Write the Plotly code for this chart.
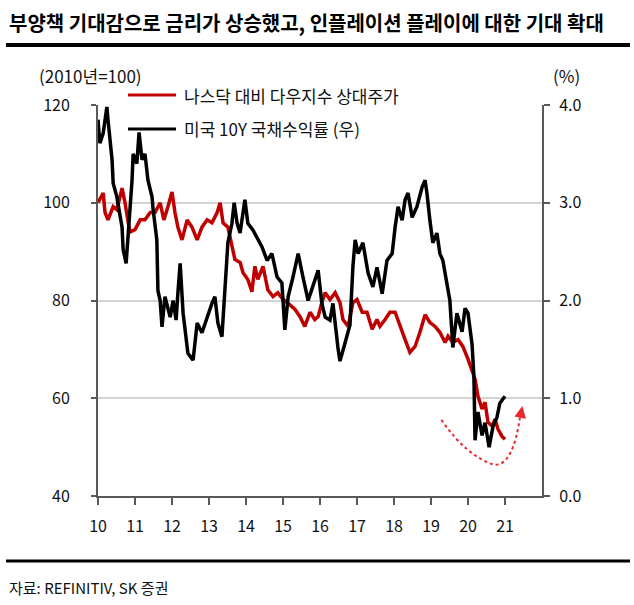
import plotly.graph_objects as go

# ---------------- data ----------------
# 나스닥 대비 다우지수 상대주가 (left axis, 2010=100); x in decimal years
rel_x = [2010.0, 2010.14, 2010.19, 2010.27, 2010.41, 2010.51, 2010.65, 2010.73, 2010.86, 2011.0,
         2011.14, 2011.27, 2011.41, 2011.54, 2011.68, 2011.78, 2011.89, 2012.0, 2012.08, 2012.16,
         2012.27, 2012.41, 2012.54, 2012.68, 2012.81, 2012.95, 2013.08, 2013.22, 2013.3, 2013.38,
         2013.51, 2013.62, 2013.7, 2013.84, 2013.92, 2014.05, 2014.16, 2014.24, 2014.32, 2014.46,
         2014.59, 2014.73, 2014.86, 2015.0, 2015.11, 2015.32, 2015.46, 2015.59, 2015.73, 2015.86,
         2015.95, 2016.05, 2016.14, 2016.27, 2016.41, 2016.54, 2016.62, 2016.76, 2016.89, 2017.0,
         2017.14, 2017.27, 2017.41, 2017.54, 2017.62, 2017.76, 2017.89, 2018.03, 2018.16, 2018.3,
         2018.43, 2018.57, 2018.7, 2018.84, 2018.97, 2019.11, 2019.24, 2019.38, 2019.46, 2019.59,
         2019.73, 2019.86, 2020.0, 2020.11, 2020.19, 2020.27, 2020.38, 2020.46, 2020.54, 2020.65,
         2020.73, 2020.81, 2020.92, 2021.0]
rel_y = [100.0, 102.0, 98.0, 96.5, 99.2, 98.6, 103.0, 100.0, 94.0, 94.5,
         96.5, 96.5, 98.0, 98.0, 100.0, 96.5, 99.2, 102.2, 98.0, 95.0,
         92.4, 96.5, 95.0, 92.4, 95.0, 96.5, 95.9, 98.0, 100.0, 95.9,
         95.0, 91.0, 88.4, 87.8, 85.7, 84.3, 81.8, 87.0, 84.3, 87.0,
         82.2, 80.8, 81.6, 80.2, 79.6, 78.2, 76.7, 74.7, 77.6, 76.1,
         76.7, 79.6, 81.6, 80.2, 81.6, 79.6, 76.1, 74.7, 79.6, 80.2,
         77.6, 77.6, 74.1, 76.1, 74.7, 76.1, 77.6, 77.6, 74.7, 72.0,
         69.4, 70.6, 73.5, 77.1, 75.5, 74.7, 73.5, 71.4, 72.7, 71.4,
         72.0, 70.6, 68.0, 65.3, 63.9, 60.4, 57.8, 59.2, 55.1, 54.3,
         55.7, 53.7, 52.2, 51.6]

# 미국 10Y 국채수익률 (right axis, %)
ust_x = [2010.0, 2010.05, 2010.14, 2010.24, 2010.27, 2010.38, 2010.41, 2010.51, 2010.65, 2010.68,
         2010.76, 2010.81, 2010.92, 2010.95, 2011.05, 2011.11, 2011.19, 2011.27, 2011.35, 2011.46,
         2011.49, 2011.59, 2011.62, 2011.68, 2011.73, 2011.81, 2011.95, 2012.03, 2012.11, 2012.16,
         2012.22, 2012.3, 2012.43, 2012.57, 2012.68, 2012.81, 2012.95, 2013.08, 2013.16, 2013.24,
         2013.35, 2013.43, 2013.51, 2013.62, 2013.68, 2013.76, 2013.84, 2013.97, 2014.05, 2014.19,
         2014.3, 2014.43, 2014.57, 2014.7, 2014.84, 2014.97, 2015.05, 2015.14, 2015.27, 2015.41,
         2015.54, 2015.68, 2015.81, 2015.95, 2016.05, 2016.14, 2016.27, 2016.35, 2016.49, 2016.54,
         2016.68, 2016.81, 2016.89, 2016.95, 2017.03, 2017.16, 2017.3, 2017.43, 2017.54, 2017.68,
         2017.81, 2017.95, 2018.03, 2018.11, 2018.22, 2018.3, 2018.38, 2018.49, 2018.62, 2018.76,
         2018.84, 2018.89, 2018.97, 2019.05, 2019.16, 2019.24, 2019.32, 2019.43, 2019.51, 2019.59,
         2019.7, 2019.84, 2019.92, 2020.0, 2020.11, 2020.16, 2020.19, 2020.27, 2020.38, 2020.46,
         2020.57, 2020.68, 2020.78, 2020.86, 2021.0]
ust_y = [3.85, 3.61, 3.71, 3.98, 3.85, 3.44, 3.2, 3.06, 2.75, 2.52,
         2.38, 2.62, 3.23, 3.5, 3.4, 3.72, 3.44, 3.5, 3.23, 3.06,
         2.93, 2.62, 2.1, 2.0, 1.73, 2.04, 1.83, 2.0, 1.8, 2.08,
         2.38, 1.87, 1.46, 1.39, 1.77, 1.67, 1.83, 1.97, 2.04, 1.77,
         1.63, 2.1, 2.59, 2.79, 3.0, 2.79, 2.69, 3.03, 2.79, 2.72,
         2.65, 2.55, 2.41, 2.48, 2.24, 2.18, 1.7, 2.04, 2.24, 2.48,
         2.24, 2.0, 2.15, 2.31, 1.97, 1.83, 1.8, 1.97, 1.5, 1.38,
         1.57, 1.75, 2.35, 2.62, 2.48, 2.59, 2.28, 2.14, 2.34, 2.07,
         2.41, 2.48, 2.75, 2.96, 2.82, 3.03, 3.1, 2.85, 2.96, 3.16,
         3.23, 3.1, 2.82, 2.59, 2.69, 2.48, 2.41, 2.14, 2.0, 1.52,
         1.87, 1.68, 1.92, 1.87, 1.55, 1.22, 0.57, 0.86, 0.62, 0.75,
         0.5, 0.72, 0.8, 0.95, 1.02]

x_tickvals = list(range(2010, 2022))
x_ticktext = ["10", "11", "12", "13", "14", "15", "16", "17", "18", "19", "20", "21"]

name_rel = "나스닥 대비 다우지수 상대주가"
name_ust = "미국 10Y 국채수익률 (우)"
title_text = "부양책 기대감으로 금리가 상승했고, 인플레이션 플레이에 대한 기대 확대"
source_text = "자료: REFINITIV, SK 증권"

# ---------------- layout geometry ----------------
W, H = 634, 605
L, R, T, B = 98, 542, 105, 496


def px(x):
    return (x - L) / (R - L)


def py(y):
    return (B - y) / (B - T)


FONT = "Noto Sans CJK KR"
RED = "#c00000"

fig = go.Figure()
fig.add_trace(go.Scatter(x=rel_x, y=rel_y, mode="lines", name=name_rel,
                         line=dict(color=RED, width=3.5), yaxis="y", showlegend=False))
fig.add_trace(go.Scatter(x=ust_x, y=ust_y, mode="lines", name=name_ust,
                         line=dict(color="#000000", width=3.5), yaxis="y2", showlegend=False))

axis_line = "#595959"
fig.update_layout(
    width=W, height=H,
    margin=dict(l=L, r=W - R, t=T, b=H - B),
    paper_bgcolor="white", plot_bgcolor="white",
    font=dict(family=FONT, size=15, color="#111111"),
    xaxis=dict(range=[2010, 2022], tickvals=x_tickvals, ticktext=x_ticktext,
               showgrid=False, zeroline=False, showline=True, linecolor=axis_line, linewidth=2,
               ticks="outside", ticklen=7, tickwidth=1.5, tickcolor=axis_line,
               tickfont=dict(size=16), ticklabelstandoff=8),
    yaxis=dict(range=[40, 120], dtick=20, showgrid=True, gridcolor="#d4d4d4", gridwidth=1.5,
               zeroline=False, showline=True, linecolor=axis_line, linewidth=2,
               ticks="outside", ticklen=5, tickwidth=1.5, tickcolor=axis_line,
               tickfont=dict(size=16), ticklabelstandoff=18),
    yaxis2=dict(range=[0, 4], dtick=1, tickformat=".1f", overlaying="y", side="right",
                showgrid=False, zeroline=False, showline=True, linecolor=axis_line, linewidth=2,
                ticks="outside", ticklen=6, tickwidth=1.5, tickcolor=axis_line,
                tickfont=dict(size=16), ticklabelstandoff=6),
)

shapes = []
annotations = []

# title and rules
annotations.append(dict(text=title_text, xref="paper", yref="paper", x=px(7), y=py(22),
                        xanchor="left", yanchor="middle", showarrow=False,
                        font=dict(family=FONT, size=20, color="#000000", weight="bold")))
shapes.append(dict(type="line", xref="paper", yref="paper", x0=px(6), x1=px(630),
                   y0=py(45), y1=py(45), line=dict(color="#000000", width=4)))
shapes.append(dict(type="line", xref="paper", yref="paper", x0=px(6), x1=px(630),
                   y0=py(561), y1=py(561), line=dict(color="#000000", width=3)))
annotations.append(dict(text=source_text, xref="paper", yref="paper", x=px(7), y=py(587),
                        xanchor="left", yanchor="middle", showarrow=False,
                        font=dict(family="Liberation Sans Narrow, " + FONT, size=15, color="#111111")))

# axis unit labels
annotations.append(dict(text="(2010년=100)", xref="paper", yref="paper", x=px(37), y=py(76),
                        xanchor="left", yanchor="middle", showarrow=False, font=dict(size=17)))
annotations.append(dict(text="(%)", xref="paper", yref="paper", x=px(551), y=py(76),
                        xanchor="left", yanchor="middle", showarrow=False, font=dict(size=17)))

# legend (manual)
for yy, col, txt in [(95, RED, name_rel), (129, "#000000", name_ust)]:
    shapes.append(dict(type="line", xref="paper", yref="paper", x0=px(128), x1=px(176),
                       y0=py(yy), y1=py(yy), line=dict(color=col, width=3)))
    annotations.append(dict(text=txt, xref="paper", yref="paper", x=px(182), y=py(yy),
                            xanchor="left", yanchor="middle", showarrow=False,
                            font=dict(size=17, color="#111111")))

# dotted red rebound arrow
shapes.append(dict(type="path", xref="x", yref="y",
                   path="M 2019.28,55.6 Q 2019.95,48.2 2020.7,46.4 Q 2021.22,46.0 2021.41,56.4",
                   line=dict(color="#e8282a", width=2, dash="dot")))
annotations.append(dict(x=2021.47, y=58.4, ax=2021.41, ay=56.0, xref="x", yref="y",
                        axref="x", ayref="y", text="", showarrow=True, arrowhead=2,
                        arrowsize=1.3, arrowwidth=1.8, arrowcolor="#e8282a"))

fig.update_layout(shapes=shapes, annotations=annotations)
fig.write_html("out.html", config={"displayModeBar": False},
               post_script="document.body.style.margin='0';document.body.style.padding='0';")
